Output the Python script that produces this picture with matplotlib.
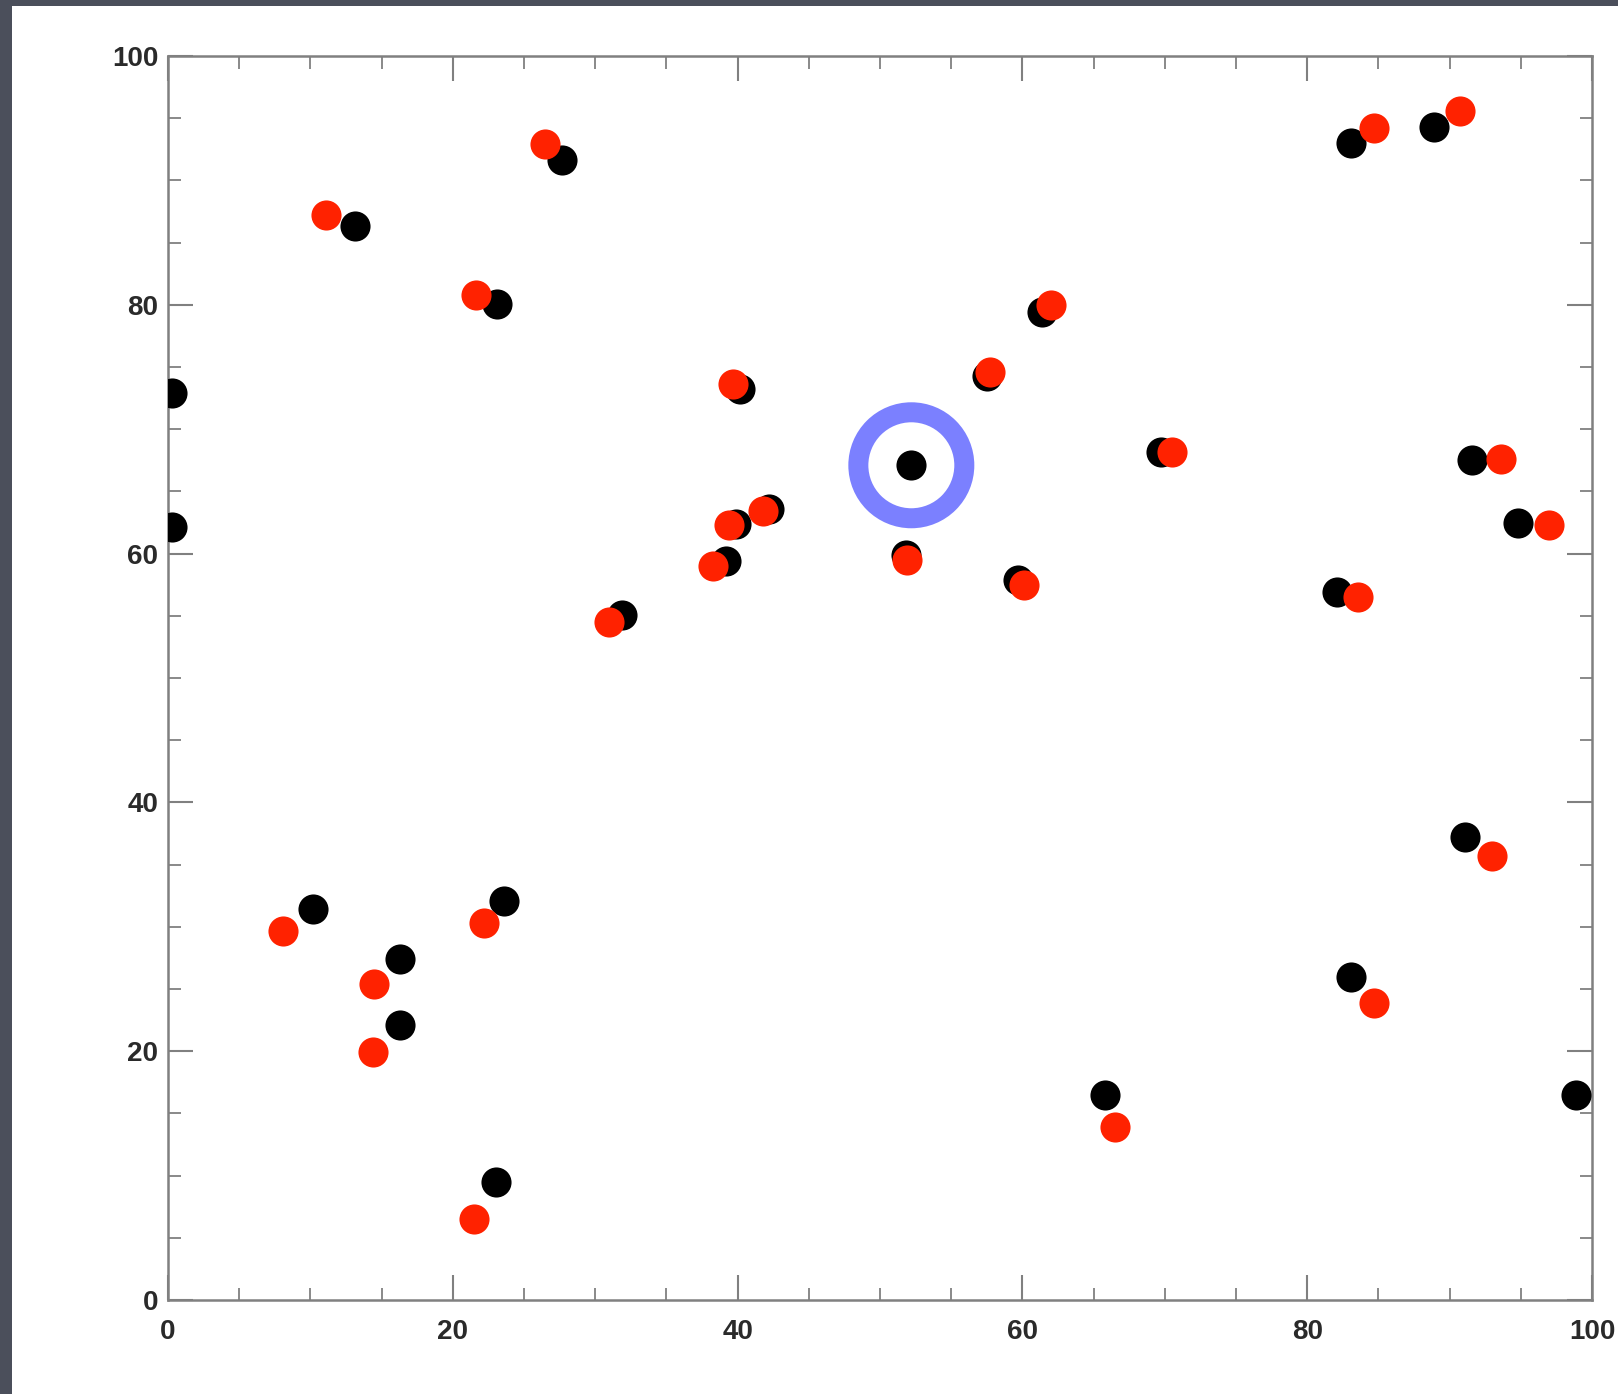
import matplotlib
matplotlib.use("Agg")
import matplotlib.pyplot as plt
from matplotlib.patches import Rectangle
from matplotlib.ticker import MultipleLocator

# Black points
black_x = [0.3, 0.3, 13.1, 23.1, 27.7, 40.2, 39.9, 42.2, 39.2, 31.9,
           52.2, 51.8, 57.5, 61.4, 59.7, 69.7, 83.1, 88.9, 91.6, 94.8,
           82.1, 91.1, 83.1, 65.8, 98.9, 10.2, 23.6, 16.3, 16.3, 23.0]
black_y = [72.9, 62.1, 86.3, 80.1, 91.6, 73.2, 62.4, 63.6, 59.4, 55.1,
           67.1, 59.9, 74.3, 79.4, 57.9, 68.2, 93.0, 94.3, 67.5, 62.5,
           56.9, 37.2, 26.0, 16.5, 16.5, 31.4, 32.1, 27.4, 22.1, 9.5]

# Red points
red_x = [11.1, 21.6, 26.5, 39.7, 39.4, 41.8, 38.3, 31.0, 51.9, 57.7,
         62.0, 60.1, 70.5, 84.7, 90.7, 93.6, 97.0, 83.6, 93.0, 84.7,
         66.5, 8.1, 22.2, 14.5, 14.4, 21.5]
red_y = [87.2, 80.8, 92.9, 73.6, 62.3, 63.4, 59.0, 54.5, 59.5, 74.6,
         80.0, 57.5, 68.2, 94.2, 95.6, 67.6, 62.3, 56.5, 35.7, 23.9,
         13.9, 29.7, 30.3, 25.4, 19.9, 6.5]

highlight_index = 10  # the circled black point

x_ticks = [0, 20, 40, 60, 80, 100]
y_ticks = [0, 20, 40, 60, 80, 100]

W, H, DPI = 1618, 1394, 100
fig = plt.figure(figsize=(W / DPI, H / DPI), dpi=DPI)
fig.patch.set_facecolor("#4b4f5b")
fig.patches.append(Rectangle((12 / W, 0), 1, 1 - 6 / H, transform=fig.transFigure,
                             facecolor="white", edgecolor="none", zorder=-10))

ax = fig.add_axes([168 / W, 1 - 1300 / H, (1592 - 168) / W, (1300 - 56) / H])
ax.set_zorder(5)
ax.set_facecolor("white")
ax.set_xlim(0, 100)
ax.set_ylim(0, 100)

ax.scatter(black_x, black_y, s=470, color="#000000", linewidths=0, zorder=3)
ax.scatter(red_x, red_y, s=470, color="#ff2200", linewidths=0, zorder=4)
ax.scatter([black_x[highlight_index]], [black_y[highlight_index]], s=76.3 ** 2,
           facecolors="none", edgecolors="#7b80ff", linewidths=14.4, zorder=5,
           clip_on=False)

for sp in ax.spines.values():
    sp.set_color("#808080")
    sp.set_linewidth(1.8)

ax.set_xticks(x_ticks)
ax.set_yticks(y_ticks)
ax.xaxis.set_minor_locator(MultipleLocator(5))
ax.yaxis.set_minor_locator(MultipleLocator(5))
ax.tick_params(which="both", direction="in", top=True, right=True, color="#808080")
ax.tick_params(which="major", length=18, width=1.5)
ax.tick_params(which="minor", length=9, width=1.3)
ax.tick_params(axis="x", which="major", pad=14)
ax.tick_params(axis="y", which="major", pad=7)

for lbl in ax.get_xticklabels() + ax.get_yticklabels():
    lbl.set_fontfamily(["Liberation Sans Narrow", "Liberation Sans", "DejaVu Sans"])
    lbl.set_fontsize(20)
    lbl.set_fontweight("bold")
    lbl.set_color("#2a2a2a")

fig.savefig("out.png", dpi=DPI, facecolor=fig.get_facecolor())
